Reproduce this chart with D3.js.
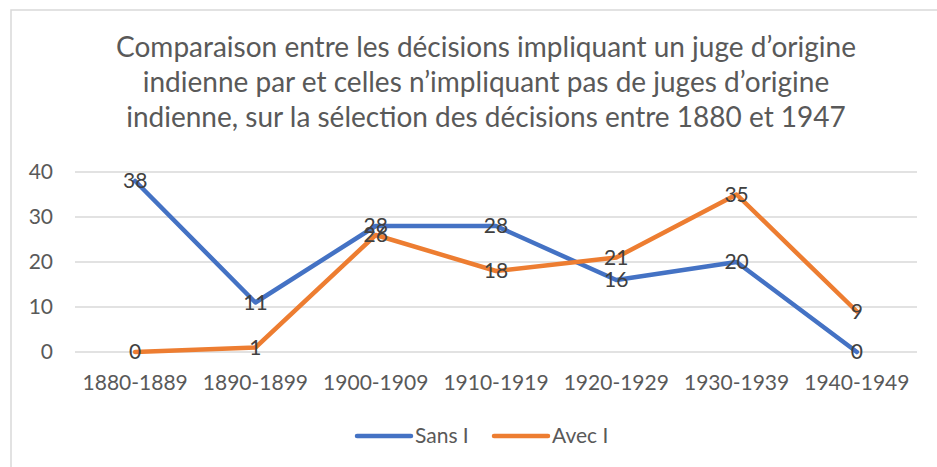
<!DOCTYPE html>
<html lang="fr">
<head>
<meta charset="UTF-8">
<script src="https://d3js.org/d3.v7.min.js"></script>
<style>
    body { margin: 0; background: #fff; }
    svg { display: block; font-family: Lato, "Open Sans", sans-serif; }
</style>
</head>
<body>
<svg width="937" height="467"></svg>
<script>
const categories = ["1880-1889", "1890-1899", "1900-1909", "1910-1919", "1920-1929", "1930-1939", "1940-1949"];
const sansI = [38, 11, 28, 28, 16, 20, 0];
const avecI = [0, 1, 26, 18, 21, 35, 9];
const yTicks = [0, 10, 20, 30, 40];
const titleLines = [
    "Comparaison entre les décisions impliquant un juge d\u2019origine",
    "indienne par et celles n\u2019impliquant pas de juges d\u2019origine",
    "indienne, sur la sélection des décisions entre 1880 et 1947"
];

const series = [
    { name: "Sans I", values: sansI, color: "#4472C4" },
    { name: "Avec I", values: avecI, color: "#ED7D31" }
];

const svg = d3.select("svg");

// chart frame (only top and left edges are inside the picture)
svg.append("path")
    .attr("d", "M11,467 V10 H937")
    .attr("fill", "none")
    .attr("stroke", "#d9d9d9")
    .attr("stroke-width", 1.5);

// title
svg.append("g")
    .selectAll("text")
    .data(titleLines)
    .join("text")
    .attr("x", 486)
    .attr("y", (d, i) => 57 + i * 35)
    .attr("text-anchor", "middle")
    .attr("fill", "#595959")
    .attr("font-size", 28)
    .text(d => d);

const x = d3.scaleBand().domain(categories).range([75, 917]);
const y = d3.scaleLinear().domain([0, 40]).range([352, 172]);

// gridlines
svg.append("g")
    .selectAll("line")
    .data(yTicks)
    .join("line")
    .attr("x1", 75).attr("x2", 917)
    .attr("y1", d => y(d)).attr("y2", d => y(d))
    .attr("stroke", "#d9d9d9")
    .attr("stroke-width", 1.5);

// y axis labels
const yAxis = svg.append("g")
    .attr("transform", "translate(53,0)")
    .call(d3.axisLeft(y).tickValues(yTicks).tickSize(0).tickPadding(0));
yAxis.select(".domain").remove();
yAxis.selectAll("text")
    .attr("font-family", "Lato, sans-serif")
    .attr("font-size", 21)
    .attr("fill", "#595959");

// x axis labels
const xAxis = svg.append("g")
    .attr("transform", "translate(0,375)")
    .call(d3.axisBottom(x).tickSize(0).tickPadding(0));
xAxis.select(".domain").remove();
xAxis.selectAll("text")
    .attr("font-family", "Lato, sans-serif")
    .attr("font-size", 21)
    .attr("fill", "#595959");

const cx = d => x(d) + x.bandwidth() / 2;

const line = d3.line()
    .x((d, i) => cx(categories[i]))
    .y(d => y(d));

svg.append("g")
    .selectAll("path")
    .data(series)
    .join("path")
    .attr("d", d => line(d.values))
    .attr("fill", "none")
    .attr("stroke", d => d.color)
    .attr("stroke-width", 4.5)
    .attr("stroke-linejoin", "round")
    .attr("stroke-linecap", "round");

// data labels
series.forEach(s => {
    svg.append("g")
        .selectAll("text")
        .data(s.values)
        .join("text")
        .attr("x", (d, i) => cx(categories[i]))
        .attr("y", d => y(d))
        .attr("dy", "0.35em")
        .attr("text-anchor", "middle")
        .attr("font-size", 21)
        .attr("fill", "#404040")
        .text(d => d);
});

// legend
const legend = svg.append("g")
    .selectAll("g")
    .data(series)
    .join("g")
    .attr("transform", (d, i) => `translate(${[357, 494][i]},436)`);
legend.append("line")
    .attr("x1", 0).attr("x2", 54)
    .attr("stroke", d => d.color)
    .attr("stroke-width", 4.5)
    .attr("stroke-linecap", "round");
legend.append("text")
    .attr("x", 58)
    .attr("dy", "0.35em")
    .attr("font-size", 21)
    .attr("fill", "#595959")
    .text(d => d.name);
</script>
</body>
</html>
